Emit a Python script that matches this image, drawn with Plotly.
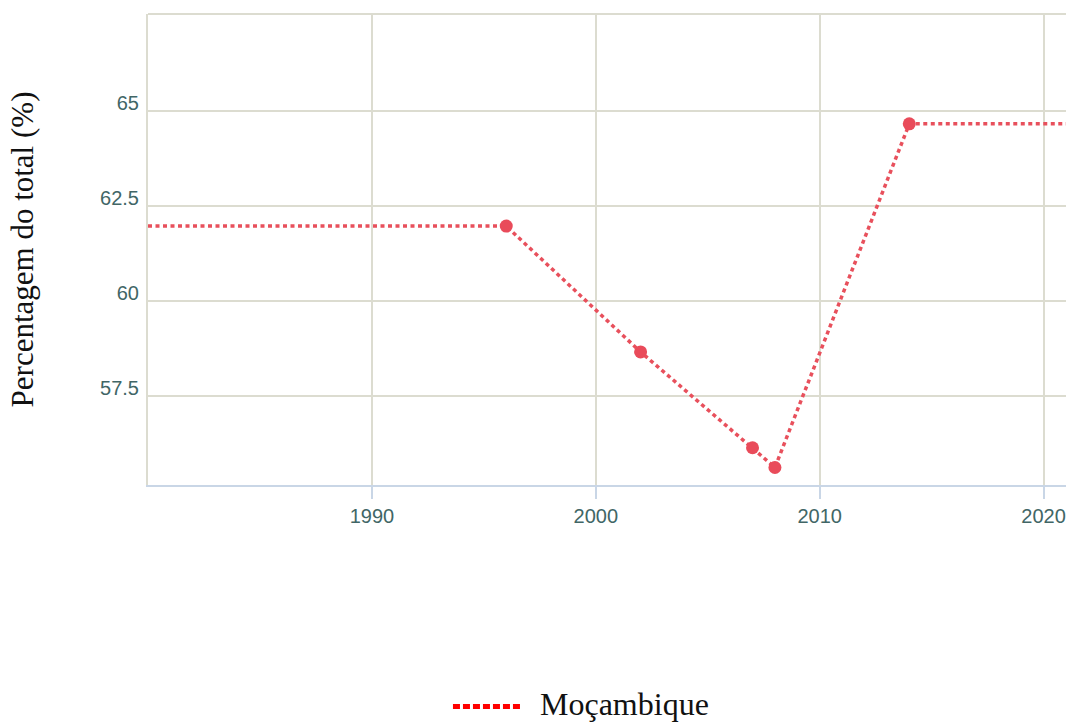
import plotly.graph_objects as go

years = [1996, 2002, 2007, 2008, 2014]
values = [61.97, 58.66, 56.14, 55.62, 64.66]
series_name = "Moçambique"
x_range = [1980, 2021]
y_range = [55.16, 67.55]
x_ticks = [1990, 2000, 2010, 2020]
y_ticks = [57.5, 60, 62.5, 65]

line_color = "#e8505c"
marker_color = "#e94b5a"
grid_color = "#dcdcd0"
tick_color = "#416666"
serif = "Liberation Serif, Times New Roman, serif"
sans = "Liberation Sans, Arial, sans-serif"

fig = go.Figure()

# dotted line, extended flat to the edges of the axis range
line_x = [x_range[0]] + years + [x_range[1]]
line_y = [values[0]] + values + [values[-1]]
fig.add_trace(go.Scatter(
    x=line_x, y=line_y, mode="lines",
    line=dict(color=line_color, width=3.5, dash="4px,3.5px"),
    showlegend=False, hoverinfo="skip",
))
fig.add_trace(go.Scatter(
    x=years, y=values, mode="markers",
    marker=dict(color=marker_color, size=13),
    showlegend=False, name=series_name,
))

# legend drawn below the plot (sample line + label)
fig.add_shape(type="line", xref="paper", yref="paper",
              x0=0.3322, x1=0.4052, y0=-0.4705, y1=-0.4705,
              line=dict(color="#ff0000", width=5, dash="7px,3px"))
fig.add_annotation(text=series_name, xref="paper", yref="paper",
                   x=0.4250, y=-0.466, xanchor="left", yanchor="middle",
                   showarrow=False, font=dict(family=serif, size=32, color="#111111"))

# top border of the plot area
fig.add_shape(type="line", xref="paper", yref="paper", x0=0, x1=1, y0=1, y1=1,
              line=dict(color=grid_color, width=2))

fig.update_layout(
    width=1069, height=724,
    margin=dict(l=148, r=3, t=14, b=239),
    paper_bgcolor="white", plot_bgcolor="white",
    showlegend=False,
    xaxis=dict(
        range=x_range, tickvals=x_ticks, showgrid=True, gridcolor=grid_color, gridwidth=2,
        showline=True, linecolor="#c9d6e6", linewidth=2,
        ticks="outside", ticklen=12, tickcolor="#c9d6e6", tickwidth=2,
        tickfont=dict(family=sans, size=20, color=tick_color),
        zeroline=False, automargin=False,
    ),
    yaxis=dict(
        range=y_range, tickvals=y_ticks,
        showgrid=True, gridcolor=grid_color, gridwidth=2,
        showline=True, linecolor=grid_color, linewidth=2,
        ticks="", ticklabelstandoff=3, ticklabelshift=-8,
        tickfont=dict(family=sans, size=20, color=tick_color),
        title=dict(text="Percentagem do total (%)", standoff=57,
                   font=dict(family=serif, size=31, color="#111111")),
        zeroline=False, automargin=False,
    ),
)

fig.write_html("out.html", config={"displayModeBar": False},
               post_script="document.body.style.margin='0';document.body.style.overflow='hidden';")
